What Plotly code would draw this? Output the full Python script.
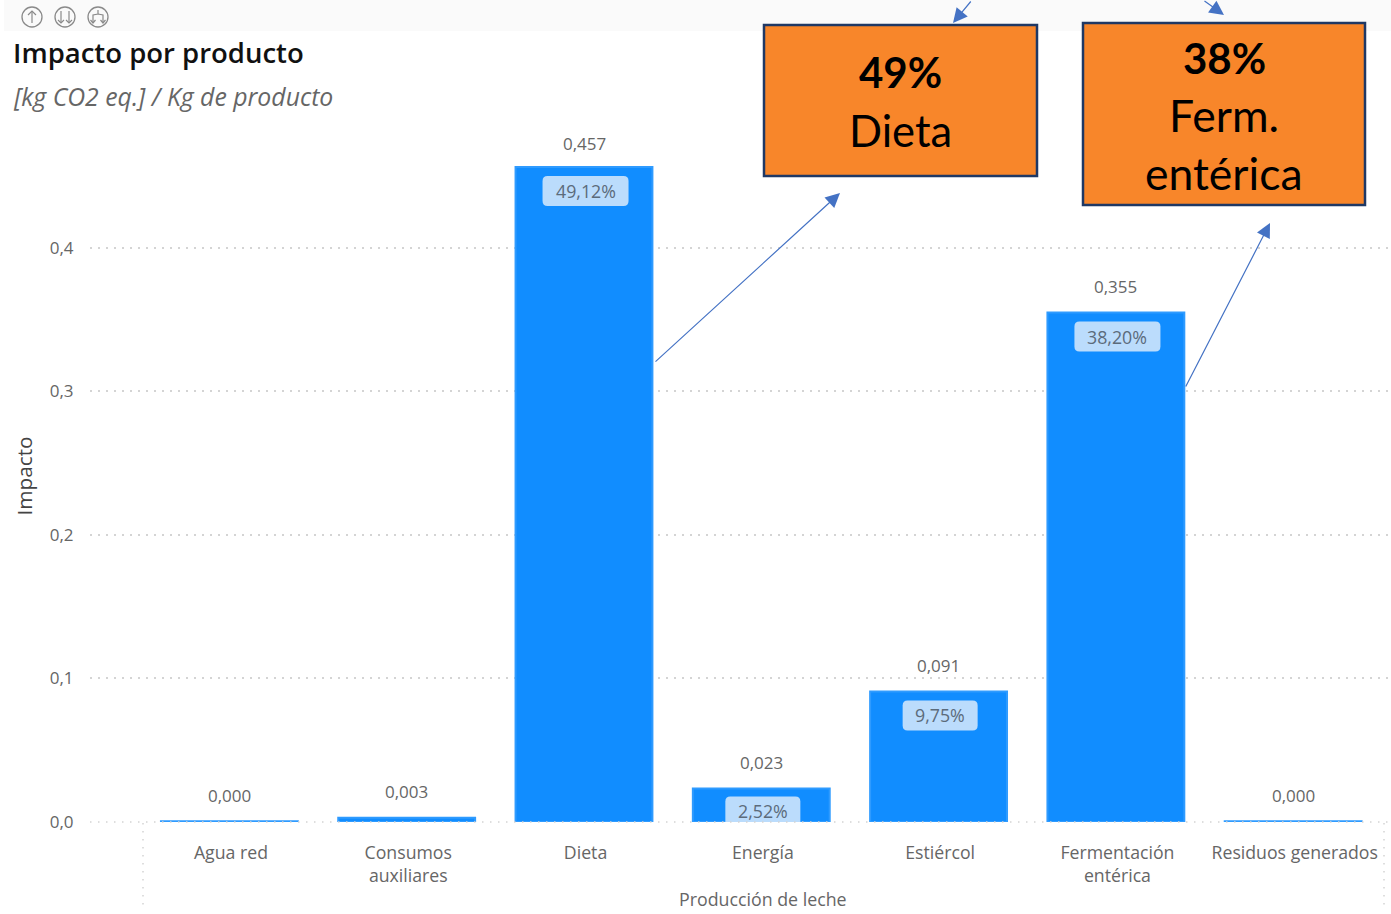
import plotly.graph_objects as go

W, H = 1391, 914
L, R, T, B = 90, 0, 130, 92

categorias = ["Agua red", "Consumos<br>auxiliares", "Dieta", "Energía", "Estiércol", "Fermentación<br>entérica", "Residuos generados"]
impacto = [0.00049, 0.003, 0.4565, 0.0234, 0.091, 0.355, 0.00049]
porcentaje = [None, None, "49,12%", "2,52%", "9,75%", "38,20%", None]
ticks_y = [0, 0.1, 0.2, 0.3, 0.4]

AZUL = "#118DFF"
GRIS = "#666666"
FLECHA = "#4472C4"
NARANJA = "#F8862A"
BORDE = "#1F3864"
FUENTE = "Open Sans"
PUNTOS = "1.5px,6.5px"
REJILLA = "#d4d4d4"


# pixels of the page -> paper coords of the plot area
def fx(px):
    return (px - L) / (W - L - R)


def fy(py):
    return (H - B - py) / (H - T - B)


def texto(px, py, s, size, color="#000000", font=FUENTE, xanchor="center", weight=None):
    f = dict(family=font, size=size, color=color)
    if weight:
        f["weight"] = weight
    return dict(x=fx(px), y=fy(py), xref="paper", yref="paper", text=s, showarrow=False,
                xanchor=xanchor, yanchor="middle", font=f)


def flecha(x0, y0, x1, y1):
    return dict(x=fx(x1), y=fy(y1), xref="paper", yref="paper", ax=x0 - x1, ay=y0 - y1,
                axref="pixel", ayref="pixel", text="", showarrow=True, arrowhead=2,
                arrowsize=2.4, arrowwidth=1.2, arrowcolor=FLECHA, standoff=0)


def caja(x0, y0, x1, y1):
    return dict(type="rect", xref="paper", yref="paper", x0=fx(x0), x1=fx(x1), y0=fy(y1), y1=fy(y0),
                fillcolor=NARANJA, line=dict(color=BORDE, width=2.5), layer="above")


def linea(pts, color="#8a8a8a", width=1.2):
    path = "M " + " L ".join(f"{fx(a)},{fy(b)}" for a, b in pts)
    return dict(type="path", xref="paper", yref="paper", path=path, line=dict(color=color, width=width), layer="above")


def circulo(cx, cy, r):
    return dict(type="circle", xref="paper", yref="paper", x0=fx(cx - r), x1=fx(cx + r), y0=fy(cy + r), y1=fy(cy - r),
                line=dict(color="#8a8a8a", width=1.3), layer="above")


def pastilla(i, pct, top):
    # rounded label background, sized in pixels and anchored on the bar top
    ancho = 86 if len(pct) > 5 else 75
    a, r = ancho / 2, 5
    bot = top - 30
    path = (f"M {-a + r},{top} L {a - r},{top} Q {a},{top} {a},{top - r} L {a},{bot + r} Q {a},{bot} {a - r},{bot} "
            f"L {-a + r},{bot} Q {-a},{bot} {-a},{bot + r} L {-a},{top - r} Q {-a},{top} {-a + r},{top} Z")
    return dict(type="path", xref="x", yref="y", xsizemode="pixel", ysizemode="pixel",
                xanchor=categorias[i], yanchor=impacto[i], path=path,
                fillcolor="#BBDCFC", line=dict(width=0), layer="above")


fig = go.Figure()
fig.add_trace(go.Bar(x=categorias, y=impacto, width=0.772, offset=-0.3948,
                     marker=dict(color=AZUL, line=dict(color="#2F9BFF", width=2)), hoverinfo="x+y"))

anot = []
shapes = [dict(type="rect", xref="paper", yref="paper", x0=fx(4), x1=fx(W), y0=fy(31), y1=fy(0),
               fillcolor="#FAFAFA", line=dict(width=0), layer="below")]

for i, v in enumerate(impacto):
    arriba = 23 if v > 0.4 else 26
    anot.append(dict(x=categorias[i], y=v, xref="x", yref="y", text=f"{v:.3f}".replace(".", ","), showarrow=False,
                     xshift=-1.5, yshift=arriba, yanchor="middle", font=dict(family=FUENTE, size=17, color=GRIS)))
    if porcentaje[i]:
        tope = -8 if v < 0.05 else -9
        shapes.append(pastilla(i, porcentaje[i], tope))
        anot.append(dict(x=categorias[i], y=v, xref="x", yref="y", text=porcentaje[i], showarrow=False,
                         yshift=tope - 15, yanchor="middle", font=dict(family=FUENTE, size=17.8, color="#5B6B7B")))

# title, subtitle, axis title
anot.append(texto(11, 53, "Impacto por producto", 27.5, "#111111", xanchor="left", weight=600))
anot.append(texto(11, 96, "<i>[kg CO2 eq.] / Kg de producto</i>", 24.8, "#666666", xanchor="left"))
anot.append(texto(763, 899, "Producción de leche", 17.8, GRIS))

# orange callouts
shapes += [caja(764, 25, 1037, 176), caja(1083, 23, 1365, 205)]
anot.append(texto(900, 72, "<b>49%</b>", 42, font="Lato"))
anot.append(texto(900, 130, "Dieta", 43.5, font="Lato"))
anot.append(texto(1224, 58, "<b>38%</b>", 42, font="Lato"))
anot.append(texto(1224, 115, "Ferm.", 44.5, font="Lato"))
anot.append(texto(1224, 172, "entérica", 44.5, font="Lato"))

anot += [flecha(654, 363, 840, 193), flecha(1185, 388, 1270, 223), flecha(972, -2, 953, 23), flecha(1203, -2, 1224, 15)]

# toolbar icons
shapes += [circulo(32, 17, 10), circulo(65, 17, 10), circulo(98, 17, 10)]
shapes += [linea([(32, 23), (32, 11)]), linea([(28, 15), (32, 11), (36, 15)]),
           linea([(61, 11), (61, 23)]), linea([(58, 20), (61, 23), (64, 20)]),
           linea([(69, 11), (69, 23)]), linea([(66, 20), (69, 23), (72, 20)]),
           linea([(98, 10), (98, 14), (93, 15), (93, 23)]), linea([(98, 14), (103, 15), (103, 23)]),
           linea([(90.5, 20), (93, 23), (95.5, 20)]), linea([(100.5, 20), (103, 23), (105.5, 20)])]

# dotted frame round the category labels
for xp in (143, 1384):
    shapes.append(dict(type="line", xref="paper", yref="paper", x0=fx(xp), x1=fx(xp), y0=fy(823), y1=fy(910),
                       line=dict(color=REJILLA, width=1.5, dash=PUNTOS)))

# the zero line, dotted like the grid (the axis' own zeroline cannot be dotted)
shapes.append(dict(type="line", xref="paper", yref="paper", x0=0, x1=1, y0=0, y1=0,
                   line=dict(color=REJILLA, width=1.5, dash=PUNTOS), layer="above"))

fig.update_layout(
    width=W, height=H, autosize=False,
    margin=dict(l=L, r=R, t=T, b=B, pad=0),
    paper_bgcolor="white", plot_bgcolor="white",
    separators=",.", showlegend=False,
    font=dict(family=FUENTE, color=GRIS),
    annotations=anot, shapes=shapes,
    xaxis=dict(type="category", categoryorder="array", categoryarray=categorias,
               range=[-0.795, 6.543], showgrid=False, zeroline=False, showline=False,
               ticks="outside", ticklen=15, tickcolor="rgba(0,0,0,0)",
               tickfont=dict(family=FUENTE, size=17.7, color=GRIS), automargin=False),
    yaxis=dict(range=[0, 0.4822], tickvals=ticks_y, tickformat=".1f", showgrid=True,
               gridcolor=REJILLA, griddash=PUNTOS, gridwidth=1.5, zeroline=False,
               ticks="outside", ticklen=12, tickcolor="rgba(0,0,0,0)",
               tickfont=dict(family=FUENTE, size=17, color=GRIS), automargin=False,
               title=dict(text="Impacto", font=dict(family=FUENTE, size=20.8, color="#444444"), standoff=11)),
)

fig.write_html("out.html", config=dict(displayModeBar=False), post_script="document.body.style.margin='0';")
